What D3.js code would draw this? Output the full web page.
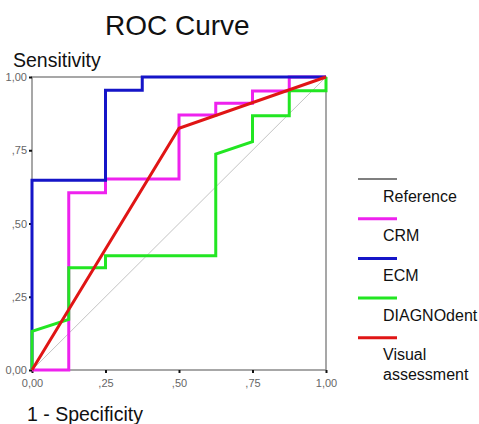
<!DOCTYPE html>
<html>
<head>
<meta charset="utf-8">
<script src="https://cdn.jsdelivr.net/npm/d3@7"></script>
<style>
  body { margin: 0; background: #fff; }
  svg { font-family: Arial, "Liberation Sans", sans-serif; }
</style>
</head>
<body>
<div id="chart"></div>
<script>
// ROC points, [1 - specificity, sensitivity]
const reference = [[0, 0], [1, 1]];
const crm = [[0, 0], [0.125, 0], [0.125, 0.605], [0.25, 0.605], [0.25, 0.652], [0.5, 0.652],
    [0.5, 0.87], [0.625, 0.87], [0.625, 0.91], [0.75, 0.91], [0.75, 0.952], [0.875, 0.952],
    [0.875, 1], [1, 1]];
const ecm = [[0, 0], [0, 0.648], [0.25, 0.648], [0.25, 0.955], [0.375, 0.955], [0.375, 1], [1, 1]];
const diagnodent = [[0, 0], [0, 0.132], [0.125, 0.173], [0.125, 0.349], [0.25, 0.349],
    [0.25, 0.39], [0.625, 0.39], [0.625, 0.737], [0.75, 0.779], [0.75, 0.868], [0.875, 0.868],
    [0.875, 0.953], [1, 0.953], [1, 1]];
const visual = [[0, 0], [0.5, 0.825], [1, 1]];

const seriesNames = ["Reference", "CRM", "ECM", "DIAGNOdent", "Visual assessment"];
const seriesColors = ["#555555", "#ee22ee", "#1515c8", "#22e622", "#e01515"];
const ticks = [0, 0.25, 0.5, 0.75, 1];
const tickLabels = ["0,00", ",25", ",50", ",75", "1,00"];

const width = 479, height = 424;
const plot = {left: 32, right: 326, top: 77, bottom: 370};

const svg = d3.select("#chart").append("svg")
    .attr("width", width)
    .attr("height", height);

const x = d3.scaleLinear().domain([0, 1]).range([plot.left, plot.right]);
const y = d3.scaleLinear().domain([0, 1]).range([plot.bottom, plot.top]);

// title + axis titles
svg.append("text")
    .attr("x", 105).attr("y", 35)
    .attr("font-size", 28).attr("fill", "#111")
    .text("ROC Curve");
svg.append("text")
    .attr("x", 13).attr("y", 67)
    .attr("font-size", 19.5).attr("fill", "#111")
    .text("Sensitivity");
svg.append("text")
    .attr("x", 27).attr("y", 421)
    .attr("font-size", 19.5).attr("fill", "#111")
    .text("1 - Specificity");

// frame
svg.append("rect")
    .attr("x", plot.left).attr("y", plot.top)
    .attr("width", plot.right - plot.left)
    .attr("height", plot.bottom - plot.top)
    .attr("fill", "none")
    .attr("stroke", "#8a8a8a")
    .attr("stroke-width", 1.5);

// axes
const yAxis = d3.axisLeft(y).tickValues(ticks).tickSize(3).tickPadding(2)
    .tickFormat((d, i) => tickLabels[i]);
const xAxis = d3.axisBottom(x).tickValues(ticks).tickSize(3).tickPadding(6)
    .tickFormat((d, i) => tickLabels[i]);

const gy = svg.append("g").attr("transform", `translate(${plot.left},0)`).call(yAxis);
const gx = svg.append("g").attr("transform", `translate(0,${plot.bottom})`).call(xAxis);
[gx, gy].forEach(g => {
    g.select(".domain").remove();
    g.selectAll(".tick line").attr("stroke", "#111").attr("stroke-width", 2);
    g.selectAll(".tick text").attr("font-size", 11).attr("fill", "#666")
        .attr("font-family", "Arial, 'Liberation Sans', sans-serif");
});

// curves
const line = d3.line().x(d => x(d[0])).y(d => y(d[1]));
const allSeries = [reference, crm, ecm, diagnodent, visual];

svg.append("g").selectAll("path")
    .data(allSeries)
    .enter().append("path")
    .attr("d", line)
    .attr("fill", "none")
    .attr("stroke", (d, i) => i === 0 ? "#c4c4c4" : seriesColors[i])
    .attr("stroke-width", (d, i) => i === 0 ? 1 : 3)
    .attr("stroke-linejoin", "miter");

// legend
const legend = svg.append("g").attr("transform", "translate(358,179)");
const item = legend.selectAll(".item")
    .data(seriesNames)
    .enter().append("g")
    .attr("class", "item")
    .attr("transform", (d, i) => `translate(0,${i * 39.7})`);

item.append("line")
    .attr("x1", 0).attr("x2", 39)
    .attr("stroke", (d, i) => seriesColors[i])
    .attr("stroke-width", (d, i) => i === 0 ? 1.5 : 3);

item.append("text")
    .attr("x", 25).attr("y", 22.5)
    .attr("font-size", 16).attr("fill", "#111")
    .each(function (d) {
        const words = d === "Visual assessment" ? ["Visual", "assessment"] : [d];
        d3.select(this).selectAll("tspan")
            .data(words)
            .enter().append("tspan")
            .attr("x", 25)
            .attr("dy", (w, j) => j === 0 ? 0 : 20)
            .text(w => w);
    });
</script>
</body>
</html>
